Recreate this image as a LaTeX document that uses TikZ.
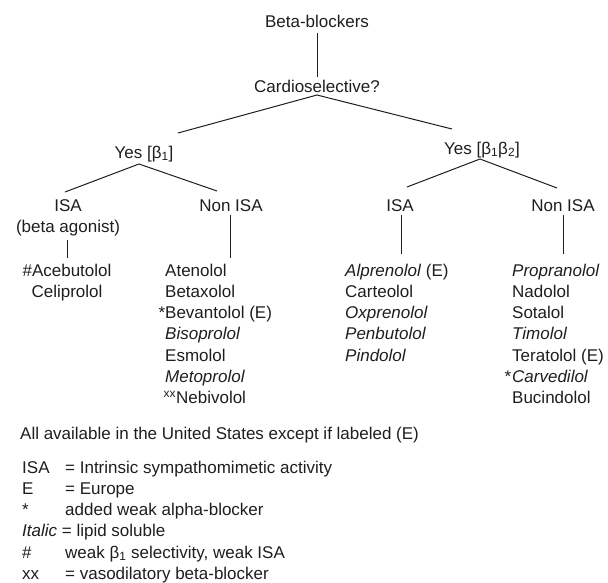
\documentclass[tikz,border=0pt]{standalone}
\usepackage{fontspec}
\setmainfont{Liberation Sans}
\definecolor{ink}{HTML}{1E1E1E}
\begin{document}
\begin{tikzpicture}[x=1pt,y=-1pt,
  txt/.style={font=\fontsize{17}{21.3}\selectfont, inner sep=0pt, text=ink},
  ctr/.style={txt, anchor=base},
  lft/.style={txt, anchor=base west},
  link/.style={draw=ink, line width=1pt}]
\useasboundingbox (0,0) rectangle (608,582);

% upper levels of the classification
\node[ctr] (bb) at (317,27.5) {Beta-blockers};
\node[ctr] (cs) at (317,92) {Cardioselective?};
\node[ctr] (y1) at (144,158) {Yes [β\textsubscript{1}]};
\node[ctr] (y12) at (482,154) {Yes [β\textsubscript{1}β\textsubscript{2}]};
\node[ctr] (isaL) at (68,211) {ISA};
\node[ctr] (agon) at (68,232) {(beta agonist)};
\node[ctr] (nisaL) at (231,211) {Non ISA};
\node[ctr] (isaR) at (400,211) {ISA};
\node[ctr] (nisaR) at (563,211) {Non ISA};

% connector end points
\coordinate (bb-s) at (317,33);
\coordinate (cs-n) at (317,77);
\coordinate (cs-s) at (317,95);
\coordinate (y1-n) at (178,133);
\coordinate (y12-n) at (452,129);
\coordinate (y1-s) at (139,164);
\coordinate (isaL-n) at (65,192);
\coordinate (nisaL-n) at (217,191);
\coordinate (y12-s) at (480,159);
\coordinate (isaR-n) at (407,187);
\coordinate (nisaR-n) at (557,188);
\coordinate (agon-s) at (67,240);
\coordinate (listA-n) at (67,258);
\coordinate (nisaL-s) at (230,215);
\coordinate (listB-n) at (230,258);
\coordinate (isaR-s) at (401,215);
\coordinate (listC-n) at (401,254);
\coordinate (nisaR-s) at (563,215);
\coordinate (listD-n) at (563,254);

\draw[link] (bb-s) -- (cs-n);
\draw[link] (y1-n) -- (cs-s) -- (y12-n);
\draw[link] (isaL-n) -- (y1-s) -- (nisaL-n);
\draw[link] (isaR-n) -- (y12-s) -- (nisaR-n);
\draw[link] (agon-s) -- (listA-n);
\draw[link] (nisaL-s) -- (listB-n);
\draw[link] (isaR-s) -- (listC-n);
\draw[link] (nisaR-s) -- (listD-n);

% drug lists
\foreach \t [count=\i] in {{\#Acebutolol},{Celiprolol}}
  \node[ctr] (a\i) at (67,{276+21.3*(\i-1)}) {\t};
\foreach \t [count=\i] in {{Atenolol},{Betaxolol},{\llap{*}Bevantolol (E)},
    {\textit{Bisoprolol}},{Esmolol},{\textit{Metoprolol}},
    {\hspace{-1.5pt}\textsuperscript{xx}Nebivolol}}
  \node[lft] (b\i) at (165,{276+21.3*(\i-1)}) {\t};
\foreach \t [count=\i] in {{\textit{Alprenolol} (E)},{Carteolol},
    {\textit{Oxprenolol}},{\textit{Penbutolol}},{\textit{Pindolol}}}
  \node[lft] (c\i) at (345,{276+21.3*(\i-1)}) {\t};
\foreach \t [count=\i] in {{\textit{Propranolol}},{Nadolol},{Sotalol},
    {\textit{Timolol}},{Teratolol (E)},{\llap{*\kern1pt}\textit{Carvedilol}},
    {Bucindolol}}
  \node[lft] (d\i) at (512,{276+21.3*(\i-1)}) {\t};

% notes and key
\node[lft] (note) at (20,439) {All available in the United States except if labeled (E)};
\foreach \k/\v [count=\i] in {{ISA}/{= Intrinsic sympathomimetic activity},
    {E}/{= Europe},{*}/{added weak alpha-blocker},
    {}/{},{\#}/{weak β\textsubscript{1} selectivity, weak ISA},
    {xx}/{= vasodilatory beta-blocker}}{
  \node[lft] (k\i) at (22,{473+21.3*(\i-1)}) {\k};
  \node[lft] (v\i) at (65,{473+21.3*(\i-1)}) {\v};
}
\node[lft] (k4b) at (22,{473+21.3*3}) {\textit{Italic} = lipid soluble};
\end{tikzpicture}
\end{document}
